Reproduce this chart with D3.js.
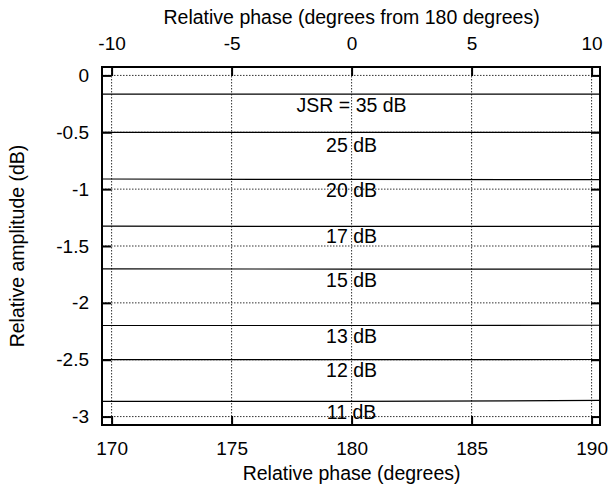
<!DOCTYPE html>
<html>
<head>
<meta charset="utf-8">
<script src="https://cdn.jsdelivr.net/npm/d3@7"></script>
<style>
  body { margin: 0; background: #fff; }
  text { font-family: "Liberation Sans", Arial, sans-serif; font-size: 19.5px; fill: #000; }
</style>
</head>
<body>
<svg id="chart" width="612" height="486"></svg>
<script>
// phase samples (degrees) and amplitude readings (dB) per JSR curve
let phases = [169.6, 180, 190.35];
let jsrLevels = [35, 25, 20, 17, 15, 13, 12, 11];
let amplitudes = [
  [-0.164, -0.164, -0.164],
  [-0.501, -0.501, -0.501],
  [-0.911, -0.915, -0.917],
  [-1.326, -1.328, -1.328],
  [-1.701, -1.703, -1.703],
  [-2.199, -2.199, -2.197],
  [-2.500, -2.500, -2.498],
  [-2.867, -2.867, -2.858]
];
let labelTexts = ["JSR = 35 dB", "25 dB", "20 dB", "17 dB", "15 dB", "13 dB", "12 dB", "11 dB"];
let labelY = [-0.322, -0.671, -1.072, -1.476, -1.858, -2.356, -2.655, -3.025];
let xTicks = [170, 175, 180, 185, 190];
let topTicks = [-10, -5, 0, 5, 10];
let yTicks = [0, -0.5, -1, -1.5, -2, -2.5, -3];

let margin = {left: 102, top: 67, right: 12, bottom: 61};
let width = 612 - margin.left - margin.right,
height = 486 - margin.top - margin.bottom;

let svg = d3.select("#chart");
let g = svg.append("g").attr("transform", `translate(${margin.left},${margin.top})`);

let x = d3.scaleLinear().domain([169.6, 190.35]).range([0, width]);
let xTop = d3.scaleLinear().domain([-10.4, 10.35]).range([0, width]);
let y = d3.scaleLinear().domain([-3.074, 0.074]).range([height, 0]);

// plain hyphen minus like the original
let fmt = d => String(d);

// grid
g.selectAll(".gx").data(xTicks).enter().append("line")
.attr("x1", d => x(d)).attr("x2", d => x(d))
.attr("y1", 0).attr("y2", height)
.attr("stroke", "#333").attr("stroke-width", 1).attr("stroke-dasharray", "1.5,1.5");

g.selectAll(".gy").data(yTicks).enter().append("line")
.attr("y1", d => y(d)).attr("y2", d => y(d))
.attr("x1", 0).attr("x2", width)
.attr("stroke", "#333").attr("stroke-width", 1).attr("stroke-dasharray", "1.5,1.5");

// curves
let line = d3.line()
.x((d, i) => x(phases[i]))
.y(d => y(d));

g.selectAll(".curve").data(amplitudes).enter().append("path")
.attr("d", line)
.attr("fill", "none")
.attr("stroke", "#000")
.attr("stroke-width", 1.2);

// labels
g.selectAll(".lbl").data(labelTexts).enter().append("text")
.attr("x", x(180))
.attr("y", (d, i) => y(labelY[i]))
.attr("text-anchor", "middle")
.text(d => d);

// axes (ticks inward, mirrored)
let tickLen = 9;
let axBottom = g.append("g").attr("transform", `translate(0,${height})`)
.call(d3.axisBottom(x).tickValues(xTicks).tickSize(-tickLen).tickPadding(tickLen + 8).tickFormat(fmt));
let axTop = g.append("g")
.call(d3.axisTop(xTop).tickValues(topTicks).tickSize(-tickLen).tickPadding(tickLen + 8).tickFormat(fmt));
let axLeft = g.append("g")
.call(d3.axisLeft(y).tickValues(yTicks).tickSize(-tickLen).tickPadding(tickLen + 4).tickFormat(fmt));
let axRight = g.append("g").attr("transform", `translate(${width},0)`)
.call(d3.axisRight(y).tickValues(yTicks).tickSize(-tickLen).tickFormat(""));

[axBottom, axTop, axLeft, axRight].forEach(a => {
  a.select(".domain").remove();
  a.selectAll(".tick line").attr("stroke", "#000").attr("stroke-width", 2);
  a.selectAll(".tick text").style("font-size", "19px");
  a.attr("font-family", null).attr("font-size", null);
});

// frame
g.append("rect")
.attr("width", width).attr("height", height)
.attr("fill", "none").attr("stroke", "#000").attr("stroke-width", 2);

// axis titles
svg.append("text")
.attr("x", margin.left + x(180)).attr("y", 24)
.attr("text-anchor", "middle")
.text("Relative phase (degrees from 180 degrees)");

svg.append("text")
.attr("x", margin.left + x(180)).attr("y", 480)
.attr("text-anchor", "middle")
.text("Relative phase (degrees)");

svg.append("text")
.attr("transform", `translate(24,${margin.top + height / 2}) rotate(-90)`)
.attr("text-anchor", "middle")
.text("Relative amplitude (dB)");
</script>
</body>
</html>
